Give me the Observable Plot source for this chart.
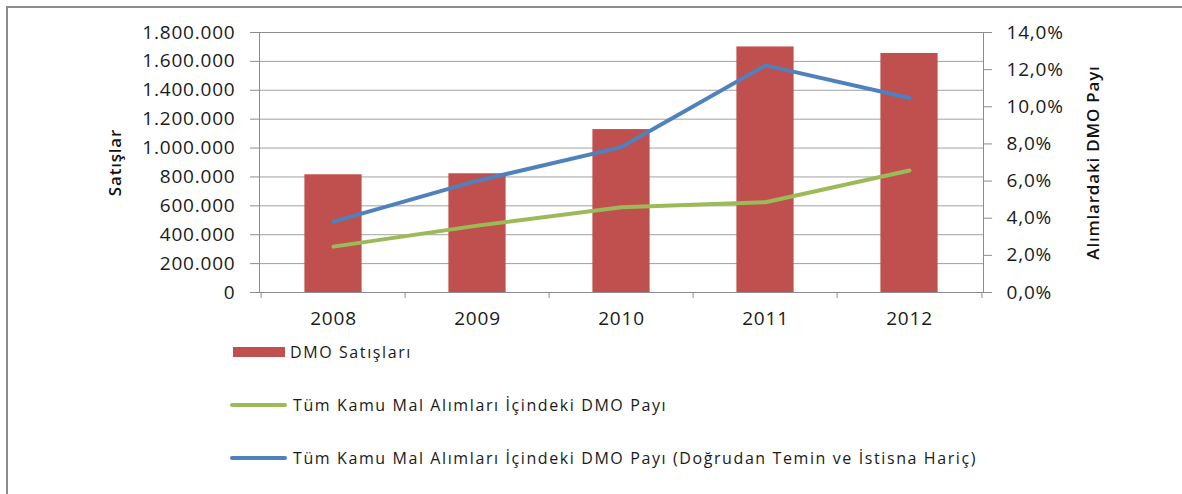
<!DOCTYPE html>
<html><head><meta charset="utf-8">
<script src="https://cdn.jsdelivr.net/npm/d3@7"></script>
<script src="https://cdn.jsdelivr.net/npm/@observablehq/plot@0.6"></script>
<style>
html,body{margin:0;padding:0;background:#fff;overflow:hidden;}
#wrap{position:relative;width:1182px;height:494px;overflow:hidden;font-family:"Open Sans",sans-serif;color:#1a1a1a;}
#border{position:absolute;left:6px;top:6px;width:1300px;height:600px;border-left:2.5px solid #8c8c8c;border-top:2.5px solid #8c8c8c;}
#chart{position:absolute;left:0;top:0;}
.leg{position:absolute;left:230px;height:20px;display:flex;align-items:center;font-size:16px;letter-spacing:1.6px;white-space:nowrap;}
.sw{width:52px;height:10px;margin-left:3px;margin-right:5px;}
.ln{width:57px;height:4px;border-radius:2px;margin-right:6px;}
</style></head><body>
<div id="wrap"><div id="border"></div><div id="chart"></div><div id="legend"></div></div>
<script>
const years = ["2008", "2009", "2010", "2011", "2012"];
const sales = [815000, 822000, 1128000, 1700000, 1655000];
const shareAll = [2.47, 3.6, 4.59, 4.86, 6.57];
const shareExcl = [3.82, 6.02, 7.83, 12.23, 10.47];
const leftTicks = [0, 200000, 400000, 600000, 800000, 1000000, 1200000, 1400000, 1600000, 1800000];
const rightTicks = [0, 2, 4, 6, 8, 10, 12, 14];
const seriesNames = [
  "DMO Satışları",
  "Tüm Kamu Mal Alımları İçindeki DMO Payı",
  "Tüm Kamu Mal Alımları İçindeki DMO Payı (Doğrudan Temin ve İstisna Hariç)"
];
const leftTitle = "Satışlar";
const rightTitle = "Alımlardaki DMO Payı";
const colors = ["#C0504D", "#9BBB59", "#4F81BD"];

const tr = d3.formatLocale({decimal: ",", thousands: ".", grouping: [3], currency: ["", ""]});
const fmtN = tr.format(",");
const fmtP = p => tr.format(".1f")(p) + "%";
const yMax = leftTicks[leftTicks.length - 1];
const pMax = rightTicks[rightTicks.length - 1];
const k = yMax / pMax;

const W = 1182, H = 340, mL = 259, mR = 199, mT = 32, mB = 48;
const step = (W - mL - mR) / years.length;
const barInset = (step - 58) / 2;

const salesData = years.map((y, i) => ({year: y, value: sales[i]}));
const allData = years.map((y, i) => ({year: y, v: shareAll[i] * k}));
const exclData = years.map((y, i) => ({year: y, v: shareExcl[i] * k}));

const chart = Plot.plot({
  width: W, height: H, marginLeft: mL, marginRight: mR, marginTop: mT, marginBottom: mB,
  style: {fontFamily: "Open Sans", fontSize: "19px", color: "#1a1a1a", background: "transparent", letterSpacing: "0.8px"},
  x: {type: "band", domain: years, padding: 0, axis: null},
  y: {domain: [0, yMax], axis: null},
  marks: [
    Plot.gridY(leftTicks, {stroke: "#a0a0a0", strokeOpacity: 1}),
    Plot.frame({stroke: "#8c8c8c"}),
    Plot.barY(salesData, {x: "year", y: "value", fill: colors[0], insetLeft: barInset, insetRight: barInset}),
    Plot.line(allData, {x: "year", y: "v", stroke: colors[1], strokeWidth: 4, strokeLinecap: "round", strokeLinejoin: "round"}),
    Plot.line(exclData, {x: "year", y: "v", stroke: colors[2], strokeWidth: 4, strokeLinecap: "round", strokeLinejoin: "round"}),
    Plot.axisY(leftTicks, {anchor: "left", tickSize: 9, tickPadding: 15, tickFormat: fmtN, stroke: "#8c8c8c", fill: "#1a1a1a", label: null}),
    Plot.axisY(rightTicks.map(p => p * k), {anchor: "right", tickSize: 8, tickPadding: 15, tickFormat: d => fmtP(Math.round(d / k)), stroke: "#8c8c8c", fill: "#1a1a1a", label: null}),
    Plot.axisX({tickSize: 0, tickPadding: 19, fill: "#1a1a1a", label: null}),
    Plot.axisX({tickSize: 6, tickFormat: () => "", dx: -step / 2, stroke: "#8c8c8c", label: null}),
    Plot.axisX([years[years.length - 1]], {tickSize: 6, tickFormat: () => "", dx: step / 2, stroke: "#8c8c8c", label: null}),
    Plot.text([leftTitle], {text: d => d, frameAnchor: "left", textAnchor: "middle", dx: -144, rotate: -90, fontSize: 17, fontWeight: 600, letterSpacing: "0.3px", fill: "#111"}),
    Plot.text([rightTitle], {text: d => d, frameAnchor: "right", textAnchor: "middle", dx: 110, rotate: -90, fontSize: 17, fontWeight: 600, letterSpacing: "0.3px", fill: "#111"})
  ]
});
document.getElementById("chart").appendChild(chart);

const legendTops = [342, 395, 448];
const legend = document.getElementById("legend");
seriesNames.forEach((name, i) => {
  const row = document.createElement("div");
  row.className = "leg";
  row.style.top = legendTops[i] + "px";
  const sw = document.createElement("div");
  sw.className = i === 0 ? "sw" : "ln";
  sw.style.background = colors[i];
  row.appendChild(sw);
  const t = document.createElement("span");
  t.textContent = name;
  row.appendChild(t);
  legend.appendChild(row);
});
</script>
</body></html>
